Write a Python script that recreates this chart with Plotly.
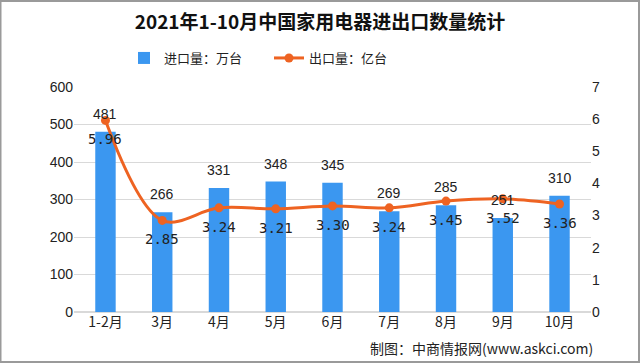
import plotly.graph_objects as go

categories = ["1-2月", "3月", "4月", "5月", "6月", "7月", "8月", "9月", "10月"]
imports = [481, 266, 331, 348, 345, 269, 285, 251, 310]
exports = [5.96, 2.85, 3.24, 3.21, 3.30, 3.24, 3.45, 3.52, 3.36]
left_ticks = [0, 100, 200, 300, 400, 500, 600]
right_ticks = [0, 1, 2, 3, 4, 5, 6, 7]

BLUE = "#3b97f0"
ORANGE = "#ee6322"
FONT = "Noto Sans CJK SC"
NUMFONT = "Liberation Sans"

L, R, T, B = 74, 49, 87, 51
PW, PH = 640 - L - R, 363 - T - B

fig = go.Figure()
fig.add_trace(go.Bar(
    x=categories, y=imports, name="进口量：万台",
    marker=dict(color=BLUE, line=dict(width=0)),
))
fig.add_trace(go.Scatter(
    x=categories, y=exports, name="出口量：亿台", yaxis="y2",
    mode="lines+markers",
    line=dict(color=ORANGE, width=3, shape="spline", smoothing=1.0),
    marker=dict(color=ORANGE, size=9),
    cliponaxis=False,
))

# value labels
for c, v in zip(categories, imports):
    fig.add_annotation(x=c, y=v, xref="x", yref="y", text=str(v), showarrow=False,
                       yanchor="bottom", yshift=8,
                       font=dict(size=14, color="#222222", family=NUMFONT))
for c, v in zip(categories, exports):
    fig.add_annotation(x=c, y=v, xref="x", yref="y2", text=f"{v:.2f}", showarrow=False,
                       yanchor="middle", yshift=-19,
                       font=dict(size=14, color="#222222", family="DejaVu Sans Mono"))

fig.update_layout(
    width=640, height=363,
    margin=dict(l=L, r=R, t=T, b=B, autoexpand=False),
    paper_bgcolor="white", plot_bgcolor="white",
    font=dict(family=FONT, size=12, color="#333333"),
    title=dict(text="<b>2021年1-10月中国家用电器进出口数量统计</b>", x=0.5, xanchor="center",
               y=1 - 22 / 363, yanchor="middle", font=dict(size=19, color="#111111", family=FONT)),
    legend=dict(orientation="h", x=(124 - L) / PW, xanchor="left", y=1 + (T - 58) / PH,
                yanchor="middle", font=dict(size=13, color="#222222"), itemwidth=30,
                entrywidth=100, traceorder="normal"),
    bargap=0.64,
    xaxis=dict(type="category", showgrid=False, ticks="", showline=False,
               tickfont=dict(size=14, color="#222222", family=FONT)),
    yaxis=dict(range=[0, 600], tickvals=left_ticks, showgrid=True, gridcolor="#d9d9d9",
               gridwidth=1, zeroline=True, zerolinecolor="#d9d9d9", showline=False,
               tickfont=dict(size=14, color="#222222", family=NUMFONT), ticks=""),
    yaxis2=dict(range=[0, 7], tickvals=right_ticks, overlaying="y", side="right",
                showgrid=False, zeroline=False, showline=False,
                tickfont=dict(size=14, color="#222222", family=NUMFONT), ticks=""),
    showlegend=True,
)

fig.add_annotation(text="制图：中商情报网(www.askci.com)", xref="paper", yref="paper",
                   x=1 + (595 - 591) / PW, y=-(348 - 312) / PH, xanchor="right", yanchor="middle",
                   showarrow=False, font=dict(size=14, color="#222222", family=FONT))

fig.add_shape(type="rect", xref="paper", yref="paper",
              x0=-L / PW + 0.5 / PW, x1=1 + (R - 1) / PW, y0=-(B - 1) / PH, y1=1 + (T - 1) / PH,
              line=dict(color="#9a9a9a", width=2), layer="above")

fig.write_html("out.html", config={"displayModeBar": False},
               post_script="document.body.style.margin='0';")
